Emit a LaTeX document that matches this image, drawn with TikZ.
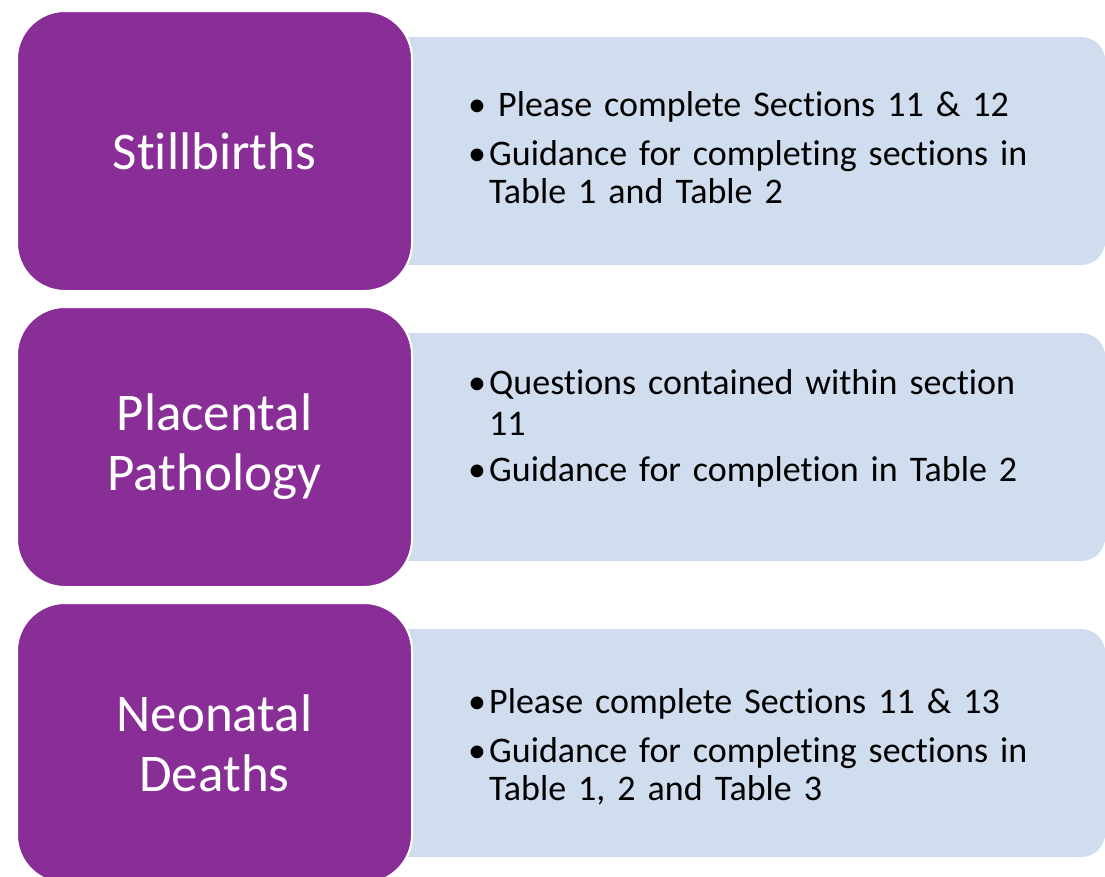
\documentclass[tikz,border=0pt]{standalone}
\usepackage{fontspec}
\setmainfont{Carlito}[Ligatures=NoCommon]
\usetikzlibrary{positioning, backgrounds}
\definecolor{boxpurple}{RGB}{136,46,150}
\definecolor{boxblue}{RGB}{208,221,238}
\tikzset{
	purplebox/.style={rectangle, rounded corners=48pt, fill=boxpurple, draw=white, line width=2pt,
		minimum width=395pt, minimum height=280pt, inner sep=0pt, text=white, align=center,
		font=\fontsize{53}{60}\selectfont}
}
\tikzset{
	bluebox/.style={rectangle, rounded corners=24pt, fill=boxblue, minimum width=724pt,
		minimum height=228pt, inner sep=0pt}
}
\tikzset{
	bullettext/.style={text width=620pt, align=left, inner sep=0pt, anchor=base west,
		font=\fontsize{36}{38}\selectfont}
}
\newcommand{\bitem}[1]{\noindent\hangindent=21pt\hangafter=1\makebox[21pt][l]{\textbullet}#1\par}

\begin{document}
\begin{tikzpicture}[x=1pt, y=-1pt]
  \useasboundingbox (0,0) rectangle (1105,876);
  \clip (0,0) rectangle (1105,876);
  % left column
  \node[purplebox] (stillbirths) at (214.5,151) {Stillbirths};
  \node[purplebox] (placental) at (214.5,447) {Placental\\Pathology};
  \node[purplebox] (neonatal) at (214.5,743) {Neonatal\\Deaths};
  % right column, behind
  \begin{scope}[on background layer]
    \node[bluebox, right=-32pt of stillbirths] (stillinfo) {};
    \node[bluebox, right=-32pt of placental] (placinfo) {};
    \node[bluebox, right=-32pt of neonatal] (neoinfo) {};
  \end{scope}
  \node[bullettext] (stilltext) at (468,116) {\setlength{\parskip}{11pt}%
    \bitem{\hspace{9pt}Please complete Sections 11 \& 12}
    \bitem{Guidance for completing sections in\newline Table 1 and Table 2}};
  \node[bullettext, font=\fontsize{36}{41}\selectfont] (plactext) at (468,394) {\setlength{\parskip}{5pt}%
    \bitem{Questions contained within section\newline 11}
    \bitem{Guidance for completion in Table 2}};
  \node[bullettext] (neotext) at (468,713) {\setlength{\parskip}{11pt}%
    \bitem{Please complete Sections 11 \& 13}
    \bitem{Guidance for completing sections in\newline Table 1, 2 and Table 3}};
\end{tikzpicture}
\end{document}
